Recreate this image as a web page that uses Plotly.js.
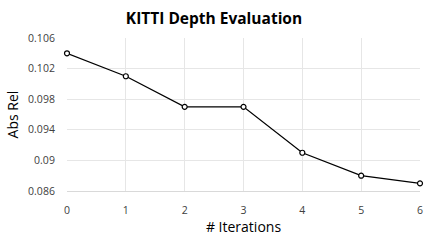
<!DOCTYPE html>
<html><head><meta charset="utf-8">
<script src="https://cdn.plot.ly/plotly-3.0.1.min.js"></script>
<style>html,body{margin:0;padding:0;background:#fff}#c{width:428px;height:241px}</style>
</head><body><div id="c"></div>
<script>
const iterations = [0, 1, 2, 3, 4, 5, 6];
const absRel = [0.104, 0.101, 0.097, 0.097, 0.091, 0.088, 0.087];
const yTicks = [0.086, 0.09, 0.094, 0.098, 0.102, 0.106];
const yTickText = ['0.086', '0.09', '0.094', '0.098', '0.102', '0.106'];

Plotly.newPlot('c', [{
  x: iterations, y: absRel, type: 'scatter', mode: 'lines+markers',
  line: {color: '#000', width: 1.3},
  marker: {symbol: 'circle', size: 5, color: '#fff', line: {color: '#000', width: 1.2}},
  cliponaxis: false
}], {
  width: 428, height: 241,
  margin: {l: 67, r: 8, t: 38, b: 50},
  paper_bgcolor: '#fff', plot_bgcolor: '#fff',
  showlegend: false,
  font: {family: 'Open Sans, sans-serif', color: '#404040', size: 10},
  title: {text: '<b>KITTI Depth Evaluation</b>', x: 0.5, xanchor: 'center', y: 0.925, yanchor: 'middle',
    font: {family: 'Open Sans, sans-serif', size: 15.5, color: '#000'}},
  xaxis: {range: [0, 6], tickvals: iterations, ticktext: iterations.map(String),
    showgrid: true, gridcolor: '#e6e6e6', gridwidth: 1, zeroline: false,
    showline: true, linecolor: '#d9d9d9', ticks: 'outside', ticklen: 9, tickcolor: 'rgba(0,0,0,0)',
    tickfont: {size: 10.5, color: '#404040'},
    title: {text: '# Iterations', font: {size: 14, color: '#000'}, standoff: 6}},
  yaxis: {range: [0.086, 0.106], tickvals: yTicks, ticktext: yTickText,
    showgrid: true, gridcolor: '#e6e6e6', gridwidth: 1, zeroline: false,
    showline: false, ticks: 'outside', ticklen: 9, tickcolor: 'rgba(0,0,0,0)',
    tickfont: {size: 10.5, color: '#404040'},
    title: {text: 'Abs Rel', font: {size: 14, color: '#000'}, standoff: 6}}
}, {staticPlot: true, displayModeBar: false});
</script></body></html>
